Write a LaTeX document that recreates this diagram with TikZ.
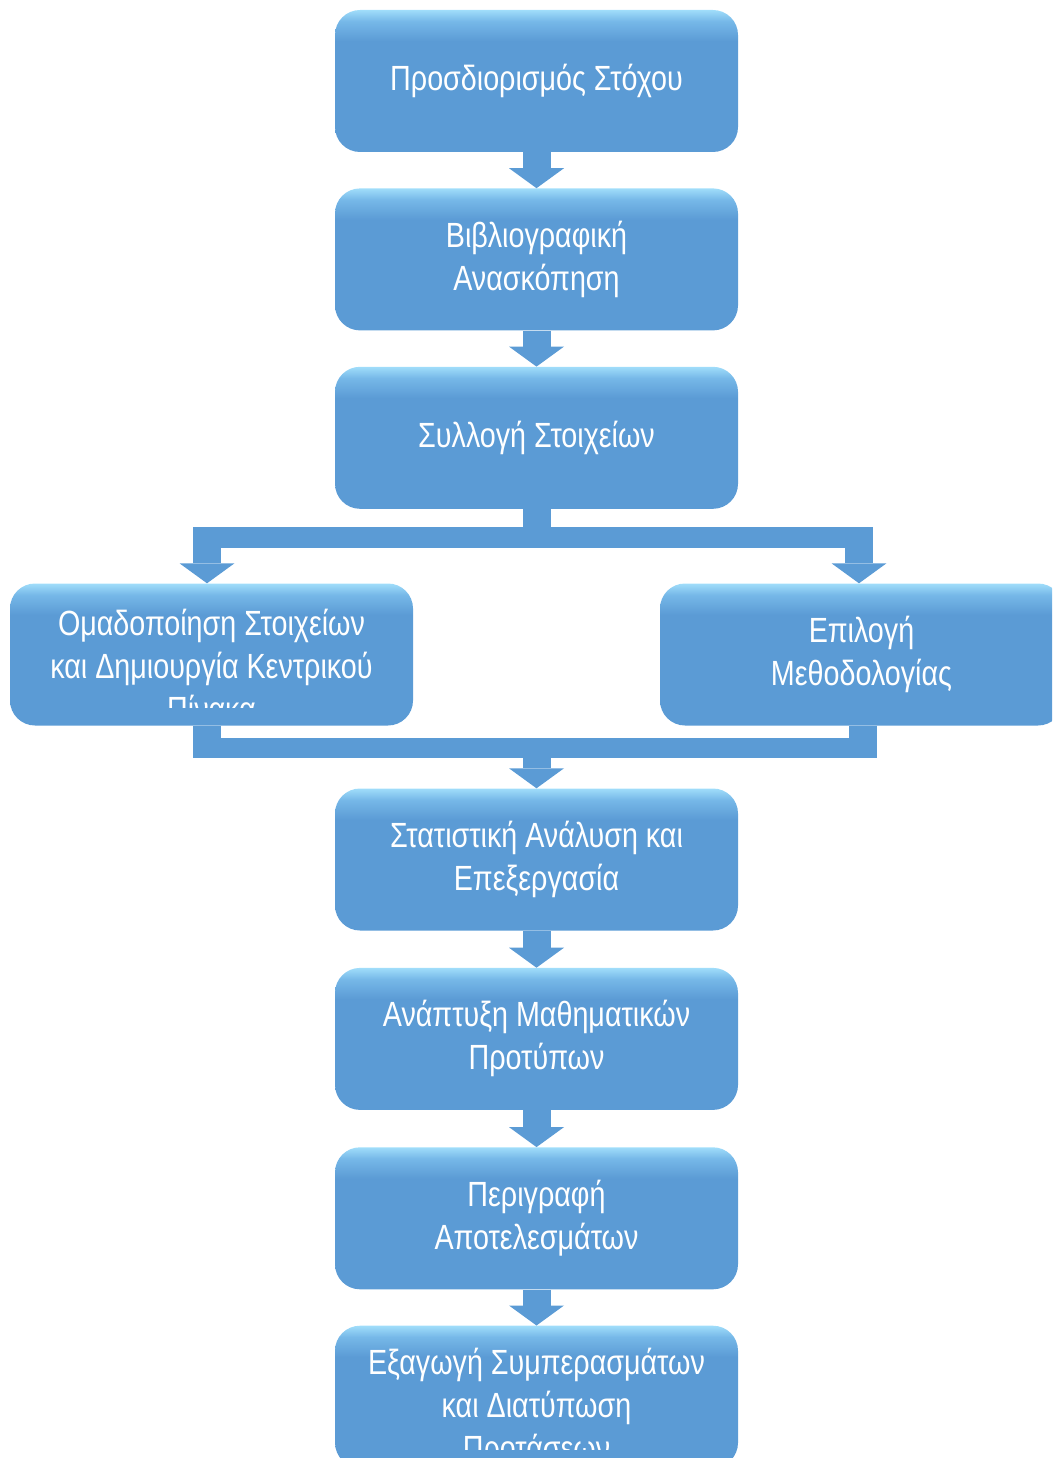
\documentclass[tikz,border=0pt]{standalone}
\usepackage{fontspec}
\setmainfont{Liberation Sans}[FakeStretch=0.82]
\usetikzlibrary{positioning,arrows.meta}

\definecolor{boxblue}{RGB}{91,155,213}
\definecolor{boxmid}{RGB}{118,184,232}
\definecolor{boxtop}{RGB}{160,221,250}
\definecolor{arrowblue}{RGB}{91,155,213}
\pgfdeclareverticalshading{boxshade}{100bp}{color(0bp)=(boxblue); color(64bp)=(boxblue); color(71bp)=(boxmid); color(75bp)=(boxtop); color(100bp)=(boxtop)}

\tikzset{
  stepbox/.style={rounded corners=25pt, minimum width=403pt, minimum height=142pt,
    shading=boxshade, inner sep=4pt, text=white, align=center,
    font=\fontsize{35pt}{43pt}\selectfont},
  steptext/.style={text=white, align=center, inner sep=0pt,
    font=\fontsize{35pt}{43pt}\selectfont},
  shaft/.style={draw=arrowblue, line width=28pt},
  bar/.style={draw=arrowblue, line width=21pt},
  flow/.style={shaft, -{Triangle[width=55pt,length=20pt,line width=0pt]}}
}

\begin{document}
\begin{tikzpicture}[x=1pt, y=-1pt]
  \useasboundingbox (0,0) rectangle (1052,1458);
  \clip (0,0) rectangle (1052,1458);

  % main column
  \node[stepbox] (goal) at (536.5,81) {Προσδιορισμός Στόχου};
  \node[stepbox, below=36pt of goal] (review) {Βιβλιογραφική\\Ανασκόπηση};
  \node[stepbox, below=36pt of review] (collect) {Συλλογή Στοιχείων};

  % two branches
  \node[stepbox] (group) at (211.5,654.5) {};
  \begin{scope}
    \clip (group.north west) rectangle ([yshift=18pt]group.south east);
    \node[steptext, yshift=-11pt] (grouptext) at (group.center)
      {Ομαδοποίηση Στοιχείων\\και Δημιουργία Κεντρικού\\Πίνακα};
  \end{scope}
  \node[stepbox] (method) at (861.5,654.5) {Επιλογή\\Μεθοδολογίας};

  \node[stepbox] (stats) at (536.5,859.5) {Στατιστική Ανάλυση και\\Επεξεργασία};
  \node[stepbox, below=37pt of stats] (models) {Ανάπτυξη Μαθηματικών\\Προτύπων};
  \node[stepbox, below=37pt of models] (results) {Περιγραφή\\Αποτελεσμάτων};
  \node[stepbox, below=36pt of results] (concl) {};
  \begin{scope}
    \clip (concl.north west) rectangle ([yshift=18pt]concl.south east);
    \node[steptext, yshift=-11pt] (concltext) at (concl.center)
      {Εξαγωγή Συμπερασμάτων\\και Διατύπωση\\Προτάσεων};
  \end{scope}

  % connectors
  \draw[flow] (goal) -- (review);
  \draw[flow] (review) -- (collect);

  \coordinate (split) at (536.5,537.5);
  \coordinate (splitL) at (207,537.5);
  \coordinate (splitR) at (859,537.5);
  \draw[shaft] (collect.south) -- (split);
  \draw[bar] ([xshift=-14pt]splitL) -- ([xshift=14pt]splitR);
  \draw[flow] (splitL) -- (splitL |- group.north);
  \draw[flow] (splitR) -- (splitR |- method.north);

  \coordinate (join) at (536.5,748);
  \coordinate (joinL) at (207,748);
  \coordinate (joinR) at (862.5,748);
  \draw[shaft] (group.south -| joinL) -- (joinL);
  \draw[shaft] (method.south -| joinR) -- (joinR);
  \draw[bar, line width=20pt] ([xshift=-14pt]joinL) -- ([xshift=14pt]joinR);
  \draw[flow] (join) -- (stats.north);

  \draw[flow] (stats) -- (models);
  \draw[flow] (models) -- (results);
  \draw[flow] (results) -- (concl);
\end{tikzpicture}
\end{document}
